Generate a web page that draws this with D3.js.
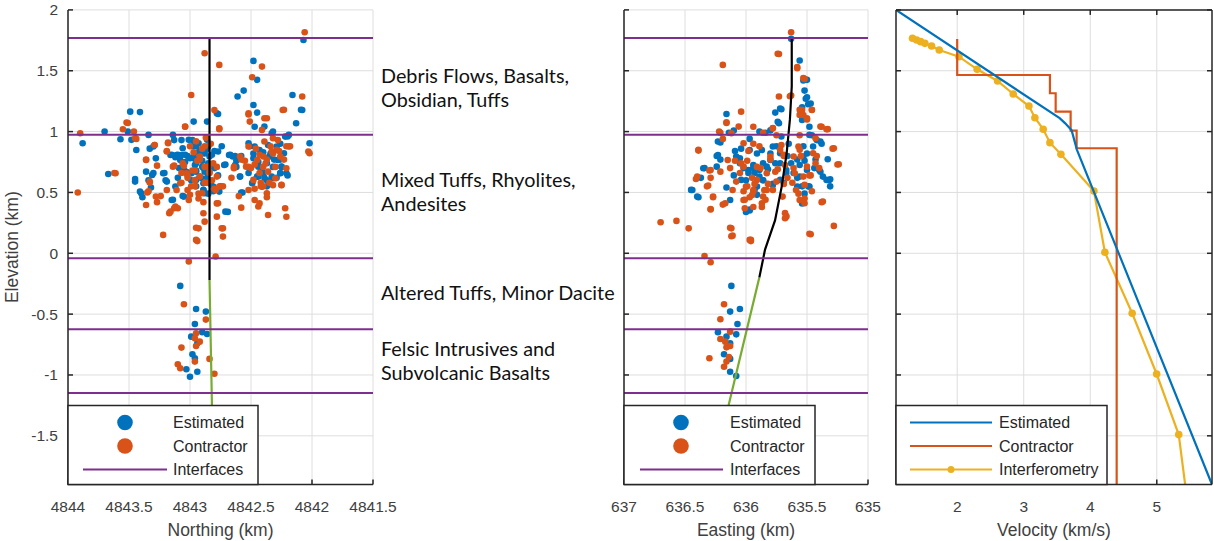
<!DOCTYPE html>
<html>
<head>
<meta charset="utf-8">
<script src="https://d3js.org/d3.v7.min.js"></script>
<style>
  body { margin: 0; background: #fff; }
  svg text { font-family: "Liberation Sans", Arial, sans-serif; fill: #262626; }
</style>
</head>
<body>
<div id="vis"></div>
<script>
// tick values
var elevTicks = [-1.5, -1, -0.5, 0, 0.5, 1, 1.5, 2]
var northTicks = [4844, 4843.5, 4843, 4842.5, 4842, 4841.5]
var eastTicks = [637, 636.5, 636, 635.5, 635]
var velTicks = [2, 3, 4, 5]

// interface elevations (km)
var interfaces = [1.77, 0.975, -0.04, -0.625, -1.148]

// geologic unit labels and the elevation they sit at
var unitLabels = [
  ["Debris Flows, Basalts,", "Obsidian, Tuffs"],
  ["Mixed Tuffs, Rhyolites,", "Andesites"],
  ["Altered Tuffs, Minor Dacite"],
  ["Felsic Intrusives and", "Subvolcanic Basalts"]
]
var unitLabelElev = [1.36, 0.5, -0.33, -0.885]

// event locations, [northing, elevation]
var northEstimated = [
  [4843.88,0.904],[4843.70,1.0],[4843.67,0.652],[4843.57,0.937],[4843.49,1.164],[4843.51,1.0],[4843.48,0.932],
  [4843.45,0.589],[4843.44,0.849],[4843.36,0.671],[4843.34,0.973],[4843.41,0.507],[4843.40,0.493],[4843.31,0.644],
  [4843.30,0.877],[4843.22,0.658],[4843.19,0.589],[4843.16,0.808],[4843.15,0.438],[4843.14,0.973],[4843.12,0.548],
  [4843.11,0.808],[4843.08,0.767],[4843.07,0.808],[4843.06,0.863],[4843.05,0.466],[4843.05,0.685],[4843.01,0.932],
  [4843.00,0.781],[4842.99,0.658],[4842.97,1.082],[4842.96,0.726],[4842.95,0.603],[4842.93,0.904],[4842.92,0.795],
  [4842.90,0.712],[4842.89,0.575],[4842.88,0.493],[4842.86,1.082],[4842.86,0.932],[4842.85,0.658],[4842.84,0.795],
  [4842.81,0.548],[4842.78,1.151],[4842.77,0.836],[4842.76,0.507],[4842.72,0.726],[4842.71,0.342],[4842.68,0.808],
  [4842.65,0.795],[4842.63,0.726],[4842.61,1.288],[4842.59,0.63],[4842.58,0.499],[4842.56,1.337],[4842.52,0.904],
  [4842.49,0.575],[4842.48,1.581],[4842.48,1.219],[4842.47,0.877],[4842.45,1.425],[4842.45,1.156],[4842.45,0.63],
  [4842.44,0.712],[4842.43,0.849],[4842.41,0.548],[4842.40,0.658],[4842.39,1.041],[4842.37,0.74],[4842.36,0.89],
  [4842.35,0.795],[4842.33,0.986],[4842.32,0.616],[4842.29,0.877],[4842.28,0.767],[4842.26,0.658],[4842.25,0.712],
  [4842.23,0.822],[4842.22,0.959],[4842.21,0.658],[4842.19,0.973],[4842.16,1.301],[4842.13,1.068],[4842.08,1.178],
  [4842.07,1.753],[4842.02,0.904],[4842.47,1.04],[4842.32,1.0],[4842.77,1.145],
  [4843.04,0.75],[4843.02,0.80],[4842.99,0.60],[4842.97,0.78],[4842.95,0.68],[4842.93,0.83],[4842.91,0.62],
  [4842.90,0.76],[4842.88,0.67],[4842.87,0.85],[4842.85,0.73],[4842.83,0.57],[4842.82,0.81],[4842.80,0.70],
  [4843.09,0.70],[4843.12,0.79],[4842.98,0.88],[4842.89,0.52],[4842.48,0.78],[4842.44,0.63],[4842.40,0.83],
  [4842.37,0.60],[4842.31,0.77],[4842.29,0.62],[4842.26,0.90],[4842.52,0.66],[4842.58,0.80],[4842.62,0.76],
  [4843.41,1.16],[4843.33,0.86],[4843.28,0.78],[4843.15,0.81],[4843.10,0.81],[4843.04,0.81],[4843.13,0.93],
  [4843.07,0.93],[4842.98,0.93],[4843.30,0.66],[4843.21,0.66],[4843.34,0.60],[4843.20,0.60],[4843.10,0.62],
  [4843.03,0.67],[4843.45,0.61],[4843.39,0.46],[4843.32,0.54],[4843.14,0.44],[4843.06,0.47],[4842.95,0.67],
  [4842.95,0.88],[4842.92,0.84],[4842.97,0.79],[4842.88,0.82],[4842.85,0.88],[4842.80,0.84],[4842.74,0.88],
  [4842.95,0.74],[4842.89,0.70],[4842.85,0.74],[4842.81,0.71],[4842.99,0.66],[4842.92,0.63],[4842.86,0.62],
  [4842.83,0.58],[4842.77,0.64],[4842.75,0.55],[4842.95,0.55],[4842.89,0.52],[4842.85,0.49],[4842.81,0.51],
  [4842.71,0.73],[4842.67,0.81],[4842.63,0.80],[4842.62,0.71],[4842.59,0.63],[4842.57,0.50],[4842.69,0.34],
  [4842.51,0.88],[4842.48,0.82],[4842.44,0.75],[4842.41,0.67],[4842.45,0.63],[4842.49,0.58],[4842.39,0.62],
  [4842.34,0.82],[4842.32,0.71],[4842.26,0.77],[4842.25,0.71],[4842.20,0.64],[4842.26,0.66],[4842.33,0.63],
  [4842.37,0.55],[4842.09,1.18],[4842.20,0.96],
  [4843.08,-0.268],[4842.95,-0.458],[4842.87,-0.479],[4842.96,-0.581],[4842.90,-0.649],[4842.86,-0.663],
  [4842.99,-0.685],[4842.94,-0.74],[4842.98,-0.83],[4842.96,-0.863],[4843.03,-0.953],[4843.00,-1.014],[4842.94,-0.973]
]
var northContractor = [
  [4843.90,0.986],[4843.92,0.499],[4843.52,1.074],[4843.55,1.019],[4843.46,1.0],[4843.45,0.945],[4843.61,0.658],
  [4843.36,0.767],[4843.36,0.397],[4843.35,0.499],[4843.33,0.581],[4843.29,0.89],[4843.28,0.466],[4843.22,0.151],
  [4843.19,0.836],[4843.18,0.904],[4843.16,0.342],[4843.14,0.712],[4843.12,0.384],[4843.10,0.37],[4843.08,0.575],
  [4843.04,1.041],[4843.03,0.658],[4843.01,0.438],[4842.99,1.301],[4843.01,-0.068],[4842.95,0.110],[4842.93,0.205],
  [4842.90,0.493],[4842.89,0.329],[4842.88,1.644],[4842.88,0.26],[4842.92,0.795],[4842.85,0.712],[4842.80,1.178],
  [4842.78,0.63],[4842.78,0.301],[4842.77,0.411],[4842.76,1.548],[4842.76,1.027],[4842.73,0.205],[4842.79,-0.027],
  [4842.76,0.548],[4842.73,0.137],[4842.64,0.699],[4842.59,0.795],[4842.52,1.151],[4842.51,1.082],[4842.52,0.877],
  [4842.54,0.712],[4842.48,0.603],[4842.47,0.438],[4842.45,0.767],[4842.44,0.384],[4842.49,1.447],[4842.41,1.534],
  [4842.41,1.014],[4842.40,0.795],[4842.39,0.918],[4842.37,0.493],[4842.36,0.315],[4842.36,0.671],[4842.33,0.836],
  [4842.30,0.616],[4842.37,1.11],[4842.32,0.945],[4842.26,0.795],[4842.25,0.562],[4842.24,1.178],[4842.22,0.37],
  [4842.21,0.699],[4842.19,0.877],[4842.08,1.288],[4842.06,1.816],[4842.03,0.836],[4842.02,0.822],
  [4842.21,0.30],[4842.58,0.375],[4842.43,0.41],[4842.37,0.46],[4842.94,0.10],[4842.74,0.205],
  [4843.05,0.72],[4843.02,0.62],[4842.98,0.68],[4842.96,0.55],[4842.94,0.76],[4842.92,0.63],[4842.90,0.86],
  [4842.88,0.71],[4842.86,0.58],[4842.84,0.66],[4842.83,0.90],[4842.81,0.74],[4842.79,0.52],[4842.97,0.83],
  [4843.00,0.48],[4842.93,0.45],[4843.07,0.66],[4842.87,0.95],[4842.95,0.92],[4842.82,0.60],[4842.50,0.70],
  [4842.46,0.86],[4842.43,0.66],[4842.38,0.74],[4842.34,0.88],[4842.30,0.71],[4842.27,0.84],[4842.42,0.55],
  [4842.35,0.58],[4842.28,0.93],[4842.55,0.76],[4842.23,0.77],
  [4843.51,1.07],[4843.04,1.04],[4843.44,0.94],[4843.29,0.89],[4843.18,0.91],[4843.19,0.84],[4843.36,0.77],
  [4843.27,0.72],[4843.13,0.72],[4843.06,0.74],[4843.62,0.66],[4843.33,0.59],[4843.34,0.51],[4843.27,0.42],
  [4843.24,0.47],[4843.19,0.52],[4843.11,0.52],[4843.07,0.58],[4843.02,0.52],[4842.99,0.55],[4843.13,0.37],
  [4843.17,0.33],[4842.95,0.21],[4843.02,0.64],[4842.96,0.60],
  [4843.0,0.88],[4842.92,0.77],[4842.88,0.88],[4842.96,0.68],[4842.84,0.67],[4842.78,0.71],[4842.88,0.58],
  [4842.93,0.49],[4842.89,0.42],[4842.78,0.41],[4842.80,0.53],[4842.73,0.55],[4842.66,0.62],[4842.64,0.71],
  [4842.58,0.77],[4842.52,0.71],[4842.47,0.73],[4842.43,0.81],[4842.40,0.71],[4842.37,0.77],[4842.32,0.82],
  [4842.29,0.85],[4842.21,0.88],[4842.18,0.88],[4842.25,0.56],[4842.32,0.56],[4842.40,0.55],[4842.47,0.53],
  [4842.42,0.58],[4842.60,0.47],[4842.52,0.52],[4842.23,1.18],[4842.39,1.11],[4842.52,1.14],[4842.76,1.02],
  [4843.05,-0.419],[4842.87,-0.545],[4842.95,-0.658],[4842.96,-0.699],[4842.95,-0.762],[4842.92,-0.726],
  [4843.07,-0.775],[4842.96,-0.89],[4843.10,-0.912],[4843.08,-0.945],[4842.84,-0.868],[4842.80,-0.99]
]

// event locations, [easting, elevation]
var eastEstimated = [
  [635.63,1.762],[635.56,1.584],[635.50,1.425],[635.52,1.337],[635.50,1.282],[635.49,1.225],[635.54,1.096],
  [635.71,1.184],[635.76,1.156],[635.73,1.068],[636.16,1.145],[636.10,1.008],[636.23,0.918],[635.48,0.973],
  [635.39,0.918],[636.23,0.808],[636.08,0.795],[635.97,0.849],[635.87,0.849],[635.78,0.877],[635.72,0.822],
  [635.53,0.795],[635.33,0.773],[636.35,0.699],[636.24,0.712],[636.05,0.74],[635.98,0.685],[635.94,0.726],
  [635.83,0.712],[635.67,0.685],[635.56,0.726],[635.50,0.685],[635.40,0.685],[635.31,0.608],[635.34,0.603],
  [636.45,0.521],[636.40,0.466],[636.16,0.54],[636.13,0.438],[635.97,0.351],[636.04,0.603],[635.91,0.548],
  [635.78,0.562],[635.72,0.603],[635.58,0.548],[635.48,0.548],[635.89,0.685],[635.80,0.767],[635.63,0.74],
  [635.45,0.877],[635.93,0.66],[635.86,0.60],[635.76,0.74],[635.69,0.58],[635.61,0.66],[635.52,0.76],
  [635.44,0.70],[636.02,0.70],[636.10,0.64],[635.80,0.82],[635.66,0.80],[635.58,0.62],
  [636.14,0.99],[636.21,0.91],[636.24,0.80],[636.21,0.77],[636.34,0.70],[636.37,0.62],[636.44,0.52],
  [636.39,0.46],[636.09,0.84],[636.05,0.78],[636.04,0.86],[635.97,0.94],[635.98,0.66],[635.94,0.70],
  [636.00,0.60],[635.97,0.36],[635.93,0.52],
  [635.53,1.42],[635.51,1.27],[635.47,1.23],[635.54,1.20],[635.55,1.15],[635.48,1.04],[635.72,1.19],
  [635.74,1.08],[635.80,1.01],[635.84,0.99],[635.89,1.00],[635.71,0.96],[635.75,0.88],[635.65,0.90],
  [635.46,0.97],[635.42,0.93],[635.38,0.90],[635.53,0.88],[635.50,0.82],[635.58,0.77],[635.43,0.77],
  [635.39,0.67],[635.37,0.63],[635.32,0.60],[635.31,0.55],[635.91,0.82],[635.86,0.74],[635.82,0.69],
  [635.72,0.74],[635.67,0.66],[635.89,0.63],[635.86,0.60],[635.78,0.57],[635.56,0.63],[635.54,0.55],
  [635.49,0.55],[635.54,0.41],[635.52,0.49],[636.0,0.34],[635.91,0.48],
  [636.12,-0.268],[636.13,-0.479],[636.05,-0.458],[636.07,-0.581],[636.23,-0.649],[636.16,-0.685],
  [636.08,-0.666],[636.13,-0.74],[636.18,-0.83],[636.13,-0.868],[636.13,-0.973],[636.08,-1.008]
]
var eastContractor = [
  [635.63,1.816],[635.73,1.638],[636.19,1.548],[635.58,1.521],[635.52,1.433],[635.73,1.288],[635.63,1.296],
  [636.04,1.164],[635.54,1.178],[635.56,1.137],[635.50,1.11],[635.46,1.178],[636.16,1.077],[635.39,1.041],
  [635.34,1.019],[636.06,1.041],[635.78,1.027],[636.22,1.0],[636.12,0.986],[636.02,0.904],[635.71,0.89],
  [635.28,0.863],[636.39,0.844],[635.57,0.877],[635.45,0.822],[636.15,0.767],[635.24,0.732],[636.29,0.685],
  [636.21,0.671],[636.40,0.63],[636.02,0.712],[635.80,0.795],[635.68,0.726],[636.31,0.556],[636.08,0.589],
  [636.00,0.548],[635.91,0.603],[635.75,0.589],[635.60,0.658],[635.52,0.562],[636.27,0.466],[636.17,0.411],
  [636.02,0.438],[636.01,0.37],[635.94,0.507],[635.87,0.411],[635.86,0.466],[635.78,0.521],[635.70,0.466],
  [635.56,0.438],[635.52,0.411],[635.37,0.425],[636.29,0.364],[635.67,0.307],[635.68,0.288],[635.97,0.11],
  [636.12,0.205],[636.11,0.145],[636.70,0.255],[636.57,0.266],[636.47,0.205],[635.47,0.156],[635.28,0.225],
  [636.34,-0.022],[636.29,-0.074],[635.95,0.479],[635.83,0.658],[635.61,0.795],[635.50,0.712],[635.43,0.945],
  [635.95,0.62],[635.88,0.70],[635.82,0.57],[635.66,0.62],[635.62,0.58],[635.55,0.80],[635.47,0.64],
  [636.05,0.66],[635.99,0.76],[635.74,0.69],[635.59,0.52],[635.43,0.74],[636.11,0.52],[635.69,0.81],[635.85,0.52],
  [636.16,1.07],[636.21,0.99],[636.19,0.94],[636.39,0.85],[636.30,0.68],[636.41,0.61],[636.29,0.62],
  [636.32,0.55],[636.27,0.46],[636.19,0.40],[636.29,0.36],[636.13,0.70],[636.09,0.76],[636.04,0.74],
  [635.98,0.84],[635.99,0.55],[636.02,0.51],[636.01,0.44],[635.97,0.46],[635.94,0.38],[636.13,0.21],
  [636.12,0.14],[635.96,0.10],
  [635.74,1.64],[635.58,1.53],[635.53,1.44],[635.64,1.29],[635.56,1.18],[635.53,1.136],[635.46,1.18],
  [635.50,1.10],[635.38,1.04],[635.33,1.02],[635.94,1.04],[635.78,1.03],[635.86,0.99],[635.56,0.97],
  [635.75,0.97],[635.94,0.90],[635.89,0.88],[635.72,0.85],[635.56,0.85],[635.69,0.80],[635.42,0.80],
  [635.29,0.86],[635.25,0.73],[635.91,0.71],[635.80,0.77],[635.76,0.67],[635.61,0.70],[635.53,0.63],
  [635.48,0.64],[635.40,0.70],[635.93,0.57],[635.83,0.52],[635.69,0.57],[635.57,0.49],[635.52,0.45],
  [635.46,0.51],[635.38,0.42],[635.87,0.38],[635.84,0.44],[635.67,0.30],[635.68,0.33],[635.94,0.52],
  [635.48,0.16],[635.96,0.11],
  [636.18,-0.419],[636.21,-0.542],[636.13,-0.644],[636.21,-0.704],[636.17,-0.726],[636.13,-0.762],
  [636.16,-0.773],[636.30,-0.863],[636.16,-0.89],[636.18,-0.932],[636.14,-0.852]
]

// well trajectory: upper (black) and lower (green) parts
var wellNorthUpper = [[4842.84,1.77],[4842.84,-0.22]]
var wellNorthLower = [[4842.84,-0.22],[4842.82,-1.25],[4842.81,-1.9]]
var wellEastUpper = [[635.625,1.77],[635.625,1.37],[635.64,1.10],[635.667,0.82],[635.707,0.55],[635.762,0.27],[635.844,0.03],[635.891,-0.20]]
var wellEastLower = [[635.891,-0.20],[636.145,-1.26],[636.30,-1.9]]

// velocity models, [velocity, elevation]
var velEstimated = [[1.08,2.0],[3.54,1.11],[3.62,1.07],[3.72,1.01],[3.80,0.85],[5.83,-1.9]]
var velContractor = [[2,1.76],[2,1.465],[3.394,1.465],[3.394,1.315],[3.48,1.315],[3.48,1.164],[3.705,1.164],
  [3.705,1.008],[3.795,1.008],[3.795,0.863],[4.397,0.863],[4.397,-1.9]]
var velInterferometry = [[1.328,1.767],[1.39,1.753],[1.45,1.739],[1.514,1.725],[1.615,1.703],[1.73,1.671],
  [2.026,1.616],[2.30,1.512],[2.607,1.416],[2.842,1.309],[3.078,1.21],[3.168,1.114],[3.293,1.019],[3.394,0.909],
  [3.559,0.813],[4.055,0.512],[4.22,0.008],[4.63,-0.493],[4.998,-0.992],[5.33,-1.49],[5.45,-2.0]]

var blue = "#0072BD", orange = "#D95319", yellow = "#EDB120", purple = "#7E2F8E", green = "#77AC30"

var W = 1214, H = 541
var svg = d3.select("#vis").append("svg").attr("width", W).attr("height", H)

var y = d3.scaleLinear().domain([-1.9, 2]).range([484.5, 9.9])

var xNorth = d3.scaleLinear().domain([4844, 4841.5]).range([68, 373])
var xEast = d3.scaleLinear().domain([637, 635]).range([624, 868])
var xVel = d3.scaleLinear().domain([1.08, 5.83]).range([896, 1212])

var tickLen = 5

function panel(id, x, xTicks, opts) {
  var g = svg.append("g")
  var x0 = x.range()[0], x1 = x.range()[1]
  var y0 = y.range()[1], y1 = y.range()[0]

  svg.append("clipPath").attr("id", "clip-" + id)
    .append("rect").attr("x", x0).attr("y", y0).attr("width", x1 - x0).attr("height", y1 - y0)

  // grid
  g.selectAll(".gx").data(xTicks).enter().append("line")
    .attr("x1", d => x(d)).attr("x2", d => x(d)).attr("y1", y0).attr("y2", y1)
    .attr("stroke", "#dedede").attr("stroke-width", 1)
  g.selectAll(".gy").data(elevTicks).enter().append("line")
    .attr("x1", x0).attr("x2", x1).attr("y1", d => y(d)).attr("y2", d => y(d))
    .attr("stroke", "#dedede").attr("stroke-width", 1)

  var plot = g.append("g").attr("clip-path", "url(#clip-" + id + ")")

  // axes
  var ax = g.append("g")
  ax.append("line").attr("x1", x0).attr("x2", x1).attr("y1", y1).attr("y2", y1)
    .attr("stroke", "#262626").attr("stroke-width", 1.5)
  ax.append("line").attr("x1", x0).attr("x2", x0).attr("y1", y0).attr("y2", y1)
    .attr("stroke", "#262626").attr("stroke-width", 1.5)
  ax.selectAll(".tx").data(xTicks).enter().append("line")
    .attr("x1", d => x(d)).attr("x2", d => x(d)).attr("y1", y1).attr("y2", y1 - tickLen)
    .attr("stroke", "#262626").attr("stroke-width", 1.5)
  ax.selectAll(".ty").data(elevTicks).enter().append("line")
    .attr("x1", x0).attr("x2", x0 + tickLen).attr("y1", d => y(d)).attr("y2", d => y(d))
    .attr("stroke", "#262626").attr("stroke-width", 1.5)
  if (opts.box) {
    ax.append("line").attr("x1", x0).attr("x2", x1).attr("y1", y0).attr("y2", y0)
      .attr("stroke", "#262626").attr("stroke-width", 1.5)
    ax.append("line").attr("x1", x1).attr("x2", x1).attr("y1", y0).attr("y2", y1)
      .attr("stroke", "#262626").attr("stroke-width", 1.5)
    ax.selectAll(".tx2").data(xTicks).enter().append("line")
      .attr("x1", d => x(d)).attr("x2", d => x(d)).attr("y1", y0).attr("y2", y0 + tickLen)
      .attr("stroke", "#262626").attr("stroke-width", 1.5)
    ax.selectAll(".ty2").data(elevTicks).enter().append("line")
      .attr("x1", x1).attr("x2", x1 - tickLen).attr("y1", d => y(d)).attr("y2", d => y(d))
      .attr("stroke", "#262626").attr("stroke-width", 1.5)
  }

  // tick labels
  ax.selectAll(".lx").data(xTicks).enter().append("text")
    .attr("x", d => x(d)).attr("y", y1 + 22)
    .attr("dy", "0.35em").attr("text-anchor", "middle")
    .style("font-size", "15.5px").style("fill", "#404040")
    .text(d => d)
  if (opts.yLabels) {
    ax.selectAll(".ly").data(elevTicks).enter().append("text")
      .attr("x", x0 - 10).attr("y", d => y(d))
      .attr("dy", "0.35em").attr("text-anchor", "end")
      .style("font-size", "15.5px").style("fill", "#404040")
      .text(d => d)
  }
  ax.append("text")
    .attr("x", (x0 + x1) / 2).attr("y", y1 + 45)
    .attr("dy", "0.35em").attr("text-anchor", "middle")
    .style("font-size", "17.5px").style("fill", "#404040")
    .text(opts.xLabel)

  return { plot: plot, legendLayer: g.append("g"), x0: x0, y1: y1 }
}

function drawLocations(p, x, est, con, upper, lower) {
  var line = d3.line().x(d => x(d[0])).y(d => y(d[1]))
  p.plot.selectAll(".est").data(est).enter().append("circle")
    .attr("cx", d => x(d[0])).attr("cy", d => y(d[1])).attr("r", 3.3).attr("fill", blue)
  p.plot.selectAll(".con").data(con).enter().append("circle")
    .attr("cx", d => x(d[0])).attr("cy", d => y(d[1])).attr("r", 3.3).attr("fill", orange)
  p.plot.append("path").datum(upper).attr("d", line)
    .attr("fill", "none").attr("stroke", "#000").attr("stroke-width", 2.2)
  p.plot.append("path").datum(lower).attr("d", line)
    .attr("fill", "none").attr("stroke", green).attr("stroke-width", 2.2)
  p.plot.selectAll(".iface").data(interfaces).enter().append("line")
    .attr("x1", x.range()[0]).attr("x2", x.range()[1])
    .attr("y1", d => y(d)).attr("y2", d => y(d))
    .attr("stroke", purple).attr("stroke-width", 2)
}

function legend(p, w, items) {
  var lg = p.legendLayer
  var top = p.y1 - 79
  lg.append("rect").attr("x", p.x0).attr("y", top).attr("width", w).attr("height", 79)
    .attr("fill", "#fff").attr("stroke", "#262626").attr("stroke-width", 1.5)
  items.forEach(function(it, i) {
    var cy = top + 17 + i * 23.5
    if (it.type == "dot") {
      lg.append("circle").attr("cx", p.x0 + 57).attr("cy", cy).attr("r", 7.8).attr("fill", it.color)
    } else {
      lg.append("line").attr("x1", p.x0 + it.l0).attr("x2", p.x0 + it.l1).attr("y1", cy).attr("y2", cy)
        .attr("stroke", it.color).attr("stroke-width", 2)
      if (it.marker) {
        lg.append("circle").attr("cx", p.x0 + (it.l0 + it.l1) / 2).attr("cy", cy).attr("r", 3.5).attr("fill", it.color)
      }
    }
    lg.append("text").attr("x", p.x0 + it.tx).attr("y", cy).attr("dy", "0.35em")
      .style("font-size", "16px").style("fill", "#262626").text(it.label)
  })
}

// left: northing
var pN = panel("north", xNorth, northTicks, { yLabels: true, xLabel: "Northing (km)" })
drawLocations(pN, xNorth, northEstimated, northContractor, wellNorthUpper, wellNorthLower)
legend(pN, 190, [
  { type: "dot", color: blue, label: "Estimated", tx: 105 },
  { type: "dot", color: orange, label: "Contractor", tx: 105 },
  { type: "line", color: purple, label: "Interfaces", l0: 15, l1: 99, tx: 105 }
])

svg.append("text")
  .attr("transform", "translate(12," + (y(2) + y(-1.9)) / 2 + ") rotate(-90)")
  .attr("dy", "0.35em").attr("text-anchor", "middle")
  .style("font-size", "17.5px").style("fill", "#404040")
  .text("Elevation (km)")

// middle: easting
var pE = panel("east", xEast, eastTicks, { yLabels: false, xLabel: "Easting (km)" })
drawLocations(pE, xEast, eastEstimated, eastContractor, wellEastUpper, wellEastLower)
legend(pE, 191, [
  { type: "dot", color: blue, label: "Estimated", tx: 106 },
  { type: "dot", color: orange, label: "Contractor", tx: 106 },
  { type: "line", color: purple, label: "Interfaces", l0: 16, l1: 99, tx: 106 }
])

// right: velocity
var pV = panel("vel", xVel, velTicks, { yLabels: false, xLabel: "Velocity (km/s)", box: true })
var vline = d3.line().x(d => xVel(d[0])).y(d => y(d[1]))
pV.plot.append("path").datum(velInterferometry).attr("d", vline)
  .attr("fill", "none").attr("stroke", yellow).attr("stroke-width", 2.2)
pV.plot.selectAll(".ifm").data(velInterferometry).enter().append("circle")
  .attr("cx", d => xVel(d[0])).attr("cy", d => y(d[1])).attr("r", 3.8).attr("fill", yellow)
pV.plot.append("path").datum(velContractor).attr("d", vline)
  .attr("fill", "none").attr("stroke", orange).attr("stroke-width", 2.2)
pV.plot.append("path").datum(velEstimated).attr("d", vline)
  .attr("fill", "none").attr("stroke", blue).attr("stroke-width", 2.2)
legend(pV, 211, [
  { type: "line", color: blue, label: "Estimated", l0: 14, l1: 96, tx: 103 },
  { type: "line", color: orange, label: "Contractor", l0: 14, l1: 96, tx: 103 },
  { type: "line", color: yellow, label: "Interferometry", l0: 14, l1: 96, tx: 103, marker: true }
])

// unit annotations between panels
unitLabels.forEach(function(lines, i) {
  var cy = y(unitLabelElev[i])
  lines.forEach(function(t, j) {
    svg.append("text")
      .attr("x", 381).attr("y", cy + (j - (lines.length - 1) / 2) * 24)
      .attr("dy", "0.35em")
      .style("font-family", "Lato, 'Open Sans', sans-serif")
      .style("font-size", "19.8px").style("fill", "#111")
      .text(t)
  })
})
</script>
</body>
</html>
